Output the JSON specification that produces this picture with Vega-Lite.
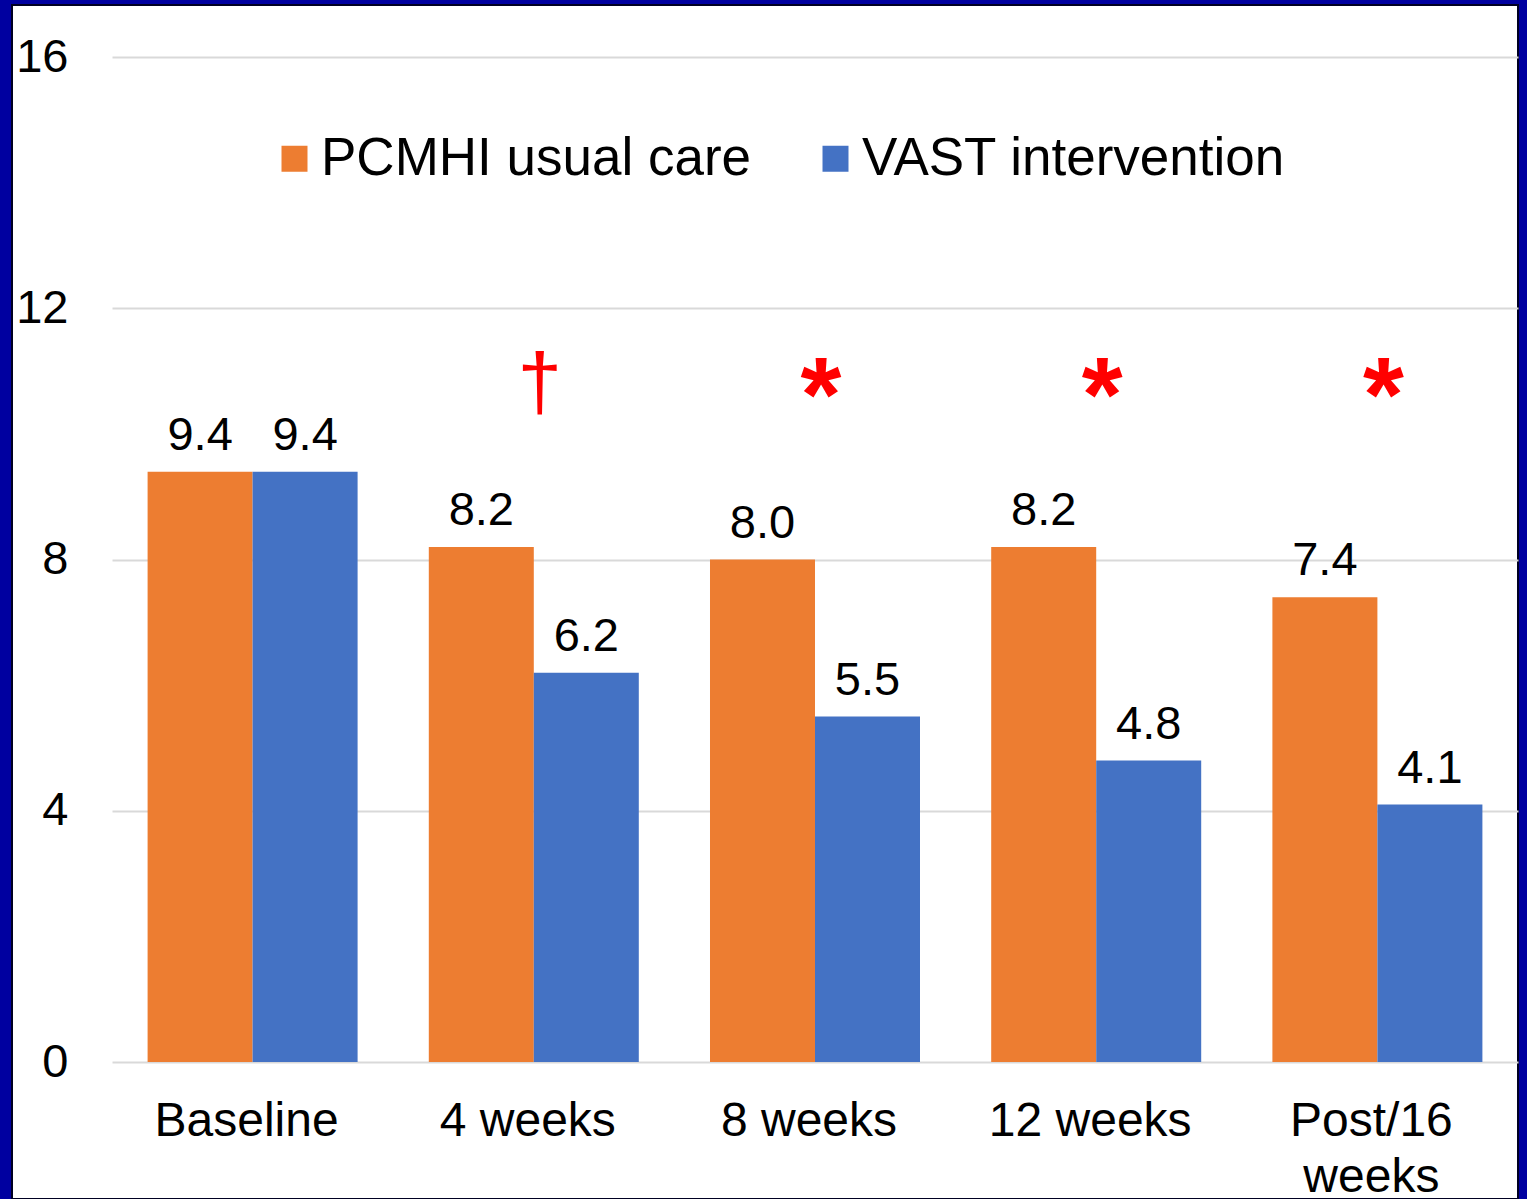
{
  "$schema": "https://vega.github.io/schema/vega-lite/v6.json",
  "width": 1506,
  "height": 1194,
  "autosize": {"type": "none"},
  "padding": {"left": 12, "top": 5, "right": 9, "bottom": 0},
  "background": "#0000A0",
  "config": {
    "view": {"fill": "white", "stroke": "#000022", "strokeWidth": 2},
    "font": "Liberation Sans"
  },
  "datasets": {
    "bars": [
      {"time": "Baseline", "group": "PCMHI usual care", "value": 9.4},
      {"time": "Baseline", "group": "VAST intervention", "value": 9.4},
      {"time": "4 weeks", "group": "PCMHI usual care", "value": 8.2},
      {"time": "4 weeks", "group": "VAST intervention", "value": 6.2},
      {"time": "8 weeks", "group": "PCMHI usual care", "value": 8.0},
      {"time": "8 weeks", "group": "VAST intervention", "value": 5.5},
      {"time": "12 weeks", "group": "PCMHI usual care", "value": 8.2},
      {"time": "12 weeks", "group": "VAST intervention", "value": 4.8},
      {"time": "Post/16 weeks", "group": "PCMHI usual care", "value": 7.4},
      {"time": "Post/16 weeks", "group": "VAST intervention", "value": 4.1}
    ],
    "marks": [
      {"time": "4 weeks", "sig": "†"},
      {"time": "8 weeks", "sig": "*"},
      {"time": "12 weeks", "sig": "*"},
      {"time": "Post/16 weeks", "sig": "*"}
    ]
  },
  "layer": [
    {
      "data": {"name": "bars"},
      "mark": {"type": "bar"},
      "encoding": {
        "x": {
          "field": "time",
          "type": "nominal",
          "sort": ["Baseline", "4 weeks", "8 weeks", "12 weeks", "Post/16 weeks"],
          "scale": {"range": [100, 1506], "paddingInner": 0.2532, "paddingOuter": 0.1266},
          "axis": {
            "title": null,
            "orient": "bottom",
            "offset": -137,
            "domain": false,
            "ticks": false,
            "labelAngle": 0,
            "labelFontSize": 48,
            "labelColor": "#000000",
            "labelPadding": 35,
            "labelOffset": -6,
            "labelLimit": 1000,
            "labelBaseline": "top",
            "labelLineHeight": 56,
            "labelExpr": "datum.value == 'Post/16 weeks' ? ['Post/16', 'weeks'] : datum.value"
          }
        },
        "xOffset": {
          "field": "group",
          "type": "nominal",
          "sort": ["PCMHI usual care", "VAST intervention"],
          "scale": {"paddingInner": 0, "paddingOuter": 0}
        },
        "y": {
          "field": "value",
          "type": "quantitative",
          "scale": {"domain": [-2.181, 16.83], "nice": false, "zero": false},
          "axis": {
            "title": null,
            "values": [0, 4, 8, 12, 16],
            "format": "d",
            "grid": true,
            "gridColor": "#d9d9d9",
            "gridWidth": 2,
            "domain": false,
            "ticks": false,
            "labelFontSize": 47,
            "labelColor": "#000000",
            "labelPadding": -56
          }
        },
        "y2": {"datum": 0},
        "color": {
          "field": "group",
          "type": "nominal",
          "scale": {"domain": ["PCMHI usual care", "VAST intervention"], "range": ["#ED7D31", "#4472C4"]},
          "legend": {
            "title": null,
            "orient": "none",
            "direction": "horizontal",
            "legendX": 256,
            "legendY": 127,
            "symbolType": "square",
            "symbolSize": 676,
            "symbolStrokeWidth": 0,
            "labelFontSize": 53,
            "labelColor": "#000000",
            "labelOffset": 0,
            "columnPadding": 57,
            "padding": 0,
            "labelLimit": 1000
          }
        }
      }
    },
    {
      "data": {"name": "bars"},
      "mark": {"type": "text", "baseline": "alphabetic", "dy": -22, "fontSize": 47, "color": "#000000"},
      "encoding": {
        "x": {"field": "time", "type": "nominal", "sort": ["Baseline", "4 weeks", "8 weeks", "12 weeks", "Post/16 weeks"]},
        "xOffset": {"field": "group", "type": "nominal", "sort": ["PCMHI usual care", "VAST intervention"]},
        "y": {"field": "value", "type": "quantitative"},
        "text": {"field": "value", "type": "quantitative", "format": ".1f"}
      }
    },
    {
      "data": {"name": "marks"},
      "transform": [{"filter": "datum.sig == '†'"}],
      "mark": {"type": "text", "baseline": "alphabetic", "fontSize": 80, "color": "#FF0000", "dx": 6},
      "encoding": {
        "x": {"field": "time", "type": "nominal", "sort": ["Baseline", "4 weeks", "8 weeks", "12 weeks", "Post/16 weeks"]},
        "y": {"datum": 10.39},
        "text": {"field": "sig"}
      }
    },
    {
      "data": {"name": "marks"},
      "transform": [{"filter": "datum.sig == '*'"}],
      "mark": {"type": "text", "baseline": "alphabetic", "fontSize": 105, "fontWeight": "bold", "color": "#FF0000", "dx": 6},
      "encoding": {
        "x": {"field": "time", "type": "nominal", "sort": ["Baseline", "4 weeks", "8 weeks", "12 weeks", "Post/16 weeks"]},
        "y": {"datum": 10.04},
        "text": {"field": "sig"}
      }
    }
  ]
}
